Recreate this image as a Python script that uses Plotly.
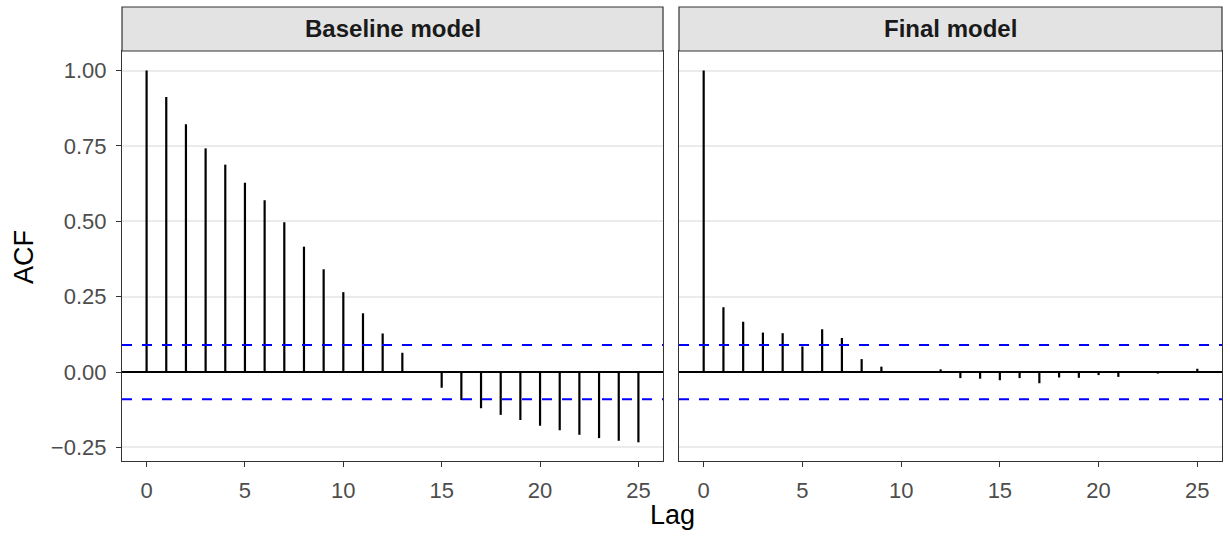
import plotly.graph_objects as go

# ---------------- data ----------------
lags = list(range(26))
baseline_acf = [1.00, 0.912, 0.822, 0.742, 0.688, 0.628, 0.570, 0.497, 0.416, 0.341,
                0.265, 0.195, 0.128, 0.064, 0.0, -0.052, -0.093, -0.120, -0.142, -0.159,
                -0.178, -0.193, -0.208, -0.219, -0.228, -0.233]
final_acf = [1.00, 0.215, 0.167, 0.131, 0.129, 0.085, 0.142, 0.113, 0.043, 0.018,
             0.002, 0.001, 0.009, -0.020, -0.022, -0.027, -0.020, -0.037, -0.018, -0.019,
             -0.010, -0.016, -0.003, -0.005, 0.001, 0.011]
conf_limit = 0.09
panel_titles = ["Baseline model", "Final model"]
x_ticks = [0, 5, 10, 15, 20, 25]
y_ticks = [-0.25, 0.0, 0.25, 0.50, 0.75, 1.00]
y_ticktext = ["\u22120.25", "0.00", "0.25", "0.50", "0.75", "1.00"]

# ---------------- layout geometry ----------------
W, H = 1230, 538
ML, MR, MT, MB = 122, 8, 51, 77
PW, PH = W - ML - MR, H - MT - MB
dom1 = [0, 541 / PW]
dom2 = [557 / PW, 1]
FONT = "Liberation Sans, Arial, sans-serif"

fig = go.Figure()


def stems(xs, ys):
    sx, sy = [], []
    for x, y in zip(xs, ys):
        sx += [x, x, None]
        sy += [0, y, None]
    return sx, sy


for i, vals in enumerate([baseline_acf, final_acf]):
    sx, sy = stems(lags, vals)
    fig.add_trace(go.Scatter(x=sx, y=sy, mode="lines",
                             line=dict(color="black", width=2.2),
                             xaxis="x" if i == 0 else "x2",
                             yaxis="y" if i == 0 else "y2",
                             showlegend=False, hoverinfo="skip"))

shapes = []
annotations = []
strip_top = 1 + 44 / PH
for i, (xr, yr) in enumerate([("x", "y"), ("x2", "y2")]):
    # zero line
    shapes.append(dict(type="line", xref=f"{xr} domain", yref=yr, x0=0, x1=1, y0=0, y1=0,
                       line=dict(color="black", width=2), layer="above"))
    # confidence limits
    for c in (conf_limit, -conf_limit):
        shapes.append(dict(type="line", xref=f"{xr} domain", yref=yr, x0=0, x1=1, y0=c, y1=c,
                           line=dict(color="#0000FF", width=2, dash="10px,10px"), layer="above"))
    # strip
    shapes.append(dict(type="rect", xref=f"{xr} domain", yref="paper", x0=0, x1=1,
                       y0=1, y1=strip_top, fillcolor="#E3E3E3",
                       line=dict(color="#333333", width=1.2), layer="above"))
    annotations.append(dict(text=f"<b>{panel_titles[i]}</b>", xref=f"{xr} domain", yref="paper",
                            x=0.5, y=(1 + strip_top) / 2, xanchor="center", yanchor="middle",
                            showarrow=False, font=dict(family=FONT, size=24, color="#1A1A1A")))

annotations.append(dict(text="ACF", xref="paper", yref="paper", x=-(ML - 24) / PW,
                        y=(461 - 257) / PH, xanchor="center", yanchor="middle", textangle=-90,
                        showarrow=False, font=dict(family=FONT, size=27, color="black")))
annotations.append(dict(text="Lag", xref="paper", yref="paper", x=(672 - ML) / PW,
                        y=(461 - 515) / PH, xanchor="center", yanchor="middle",
                        showarrow=False, font=dict(family=FONT, size=27, color="black")))

xaxis_common = dict(range=[-1.25, 26.25], tickvals=x_ticks, ticks="outside", ticklen=5,
                    tickwidth=1.2, tickcolor="#333333", showgrid=False, zeroline=False,
                    showline=True, mirror=True, linecolor="#333333", linewidth=1.2,
                    ticklabelstandoff=4,
                    tickfont=dict(family=FONT, size=22, color="#4D4D4D"))
yaxis_common = dict(range=[-0.295, 1.065], tickvals=y_ticks, showgrid=True,
                    gridcolor="#EBEBEB", gridwidth=1.5, zeroline=False,
                    showline=True, mirror=True, linecolor="#333333", linewidth=1.2)

fig.update_layout(
    width=W, height=H,
    margin=dict(l=ML, r=MR, t=MT, b=MB),
    paper_bgcolor="white", plot_bgcolor="white",
    xaxis=dict(domain=dom1, anchor="y", **xaxis_common),
    xaxis2=dict(domain=dom2, anchor="y2", **xaxis_common),
    yaxis=dict(domain=[0, 1], anchor="x", ticktext=y_ticktext, ticks="outside", ticklen=5,
               tickwidth=1.2, tickcolor="#333333", ticklabelstandoff=5,
               tickfont=dict(family=FONT, size=22, color="#4D4D4D"), **yaxis_common),
    yaxis2=dict(domain=[0, 1], anchor="x2", matches="y", showticklabels=False, ticks="",
                **yaxis_common),
    shapes=shapes,
    annotations=annotations,
    showlegend=False,
)

fig.write_html("out.html", config={"displayModeBar": False},
               post_script="document.body.style.margin='0';document.body.style.overflow='hidden';")
